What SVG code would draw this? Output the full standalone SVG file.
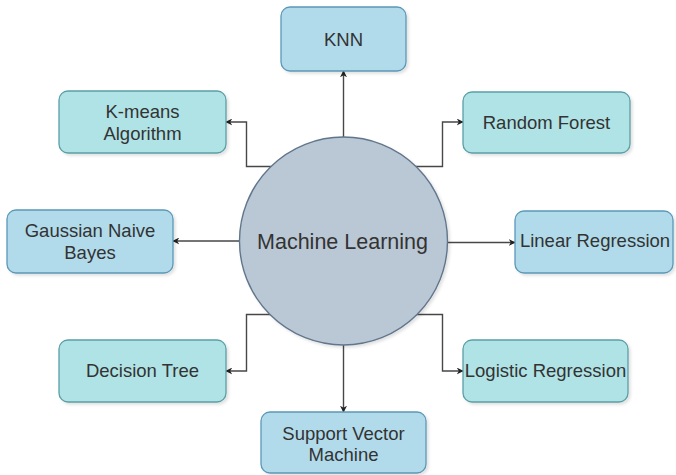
<svg xmlns="http://www.w3.org/2000/svg" width="676" height="475" viewBox="0 0 676 475">
  <style>
    .lbl { font-family: "Liberation Sans", Arial, sans-serif; font-size: 18.5px; fill: #333333; text-anchor: middle; }
    .hub { font-family: "Liberation Sans", Arial, sans-serif; font-size: 21.5px; fill: #333333; text-anchor: middle; }
    .teal { fill: #b0e3e6; stroke: #5a9fa6; stroke-width: 1.3; }
    .blue { fill: #b1dbeb; stroke: #5b98b8; stroke-width: 1.3; }
    .edge { fill: none; stroke: #474747; stroke-width: 1.4; marker-end: url(#arrow); }
  </style>
  <defs>
    <marker id="arrow" viewBox="0 0 10 10" refX="9" refY="5" markerWidth="7" markerHeight="7" markerUnits="userSpaceOnUse" orient="auto">
      <path d="M0,0 L10,5 L0,10 L3,5 Z" fill="#222222"/>
    </marker>
    <filter id="shadow" x="-10%" y="-10%" width="130%" height="130%">
      <feDropShadow dx="2" dy="2" stdDeviation="1.5" flood-color="#000000" flood-opacity="0.12"/>
    </filter>
  </defs>
  <rect width="676" height="475" fill="#ffffff"/>

  <!-- connectors from the hub to each algorithm -->
  <g id="connectors">
    <path class="edge" d="M343.5,137 V71"/>
    <path class="edge" d="M271.5,166.5 H246.5 V122 H226"/>
    <path class="edge" d="M415.5,166.5 H442.5 V122 H463"/>
    <path class="edge" d="M239.5,241 H173"/>
    <path class="edge" d="M447.5,242.5 H515"/>
    <path class="edge" d="M271.5,314.5 H246.5 V371 H226"/>
    <path class="edge" d="M415.5,314.5 H442.5 V371 H463"/>
    <path class="edge" d="M343.5,345 V412"/>
  </g>

  <g id="machine-learning">
    <circle cx="343.5" cy="241" r="104" fill="#bac8d5" stroke="#61768c" stroke-width="1.4" filter="url(#shadow)"/>
    <text class="hub" x="342.5" y="249">Machine Learning</text>
  </g>

  <g id="knn">
    <rect class="blue" x="281" y="7" width="125" height="64" rx="9" filter="url(#shadow)"/>
    <text class="lbl" x="343.5" y="46">KNN</text>
  </g>

  <g id="k-means">
    <rect class="teal" x="59" y="91" width="167" height="62" rx="9" filter="url(#shadow)"/>
    <text class="lbl" x="142.5" y="117.5">K-means</text>
    <text class="lbl" x="142.5" y="139.5">Algorithm</text>
  </g>

  <g id="random-forest">
    <rect class="teal" x="463" y="92" width="167" height="61" rx="9" filter="url(#shadow)"/>
    <text class="lbl" x="546.5" y="128.5">Random Forest</text>
  </g>

  <g id="gaussian-naive-bayes">
    <rect class="blue" x="7" y="210" width="166" height="63" rx="9" filter="url(#shadow)"/>
    <text class="lbl" x="90" y="237">Gaussian Naive</text>
    <text class="lbl" x="90" y="258.5">Bayes</text>
  </g>

  <g id="linear-regression">
    <rect class="blue" x="515" y="211" width="158" height="62" rx="9" filter="url(#shadow)"/>
    <text class="lbl" x="595" y="247">Linear Regression</text>
  </g>

  <g id="decision-tree">
    <rect class="teal" x="59" y="340" width="167" height="62" rx="9" filter="url(#shadow)"/>
    <text class="lbl" x="142.5" y="377">Decision Tree</text>
  </g>

  <g id="logistic-regression">
    <rect class="teal" x="463" y="340" width="165" height="62" rx="9" filter="url(#shadow)"/>
    <text class="lbl" x="545.5" y="377">Logistic Regression</text>
  </g>

  <g id="support-vector-machine">
    <rect class="blue" x="261" y="412" width="165" height="61" rx="9" filter="url(#shadow)"/>
    <text class="lbl" x="343.5" y="439.5">Support Vector</text>
    <text class="lbl" x="343.5" y="460.5">Machine</text>
  </g>
</svg>
